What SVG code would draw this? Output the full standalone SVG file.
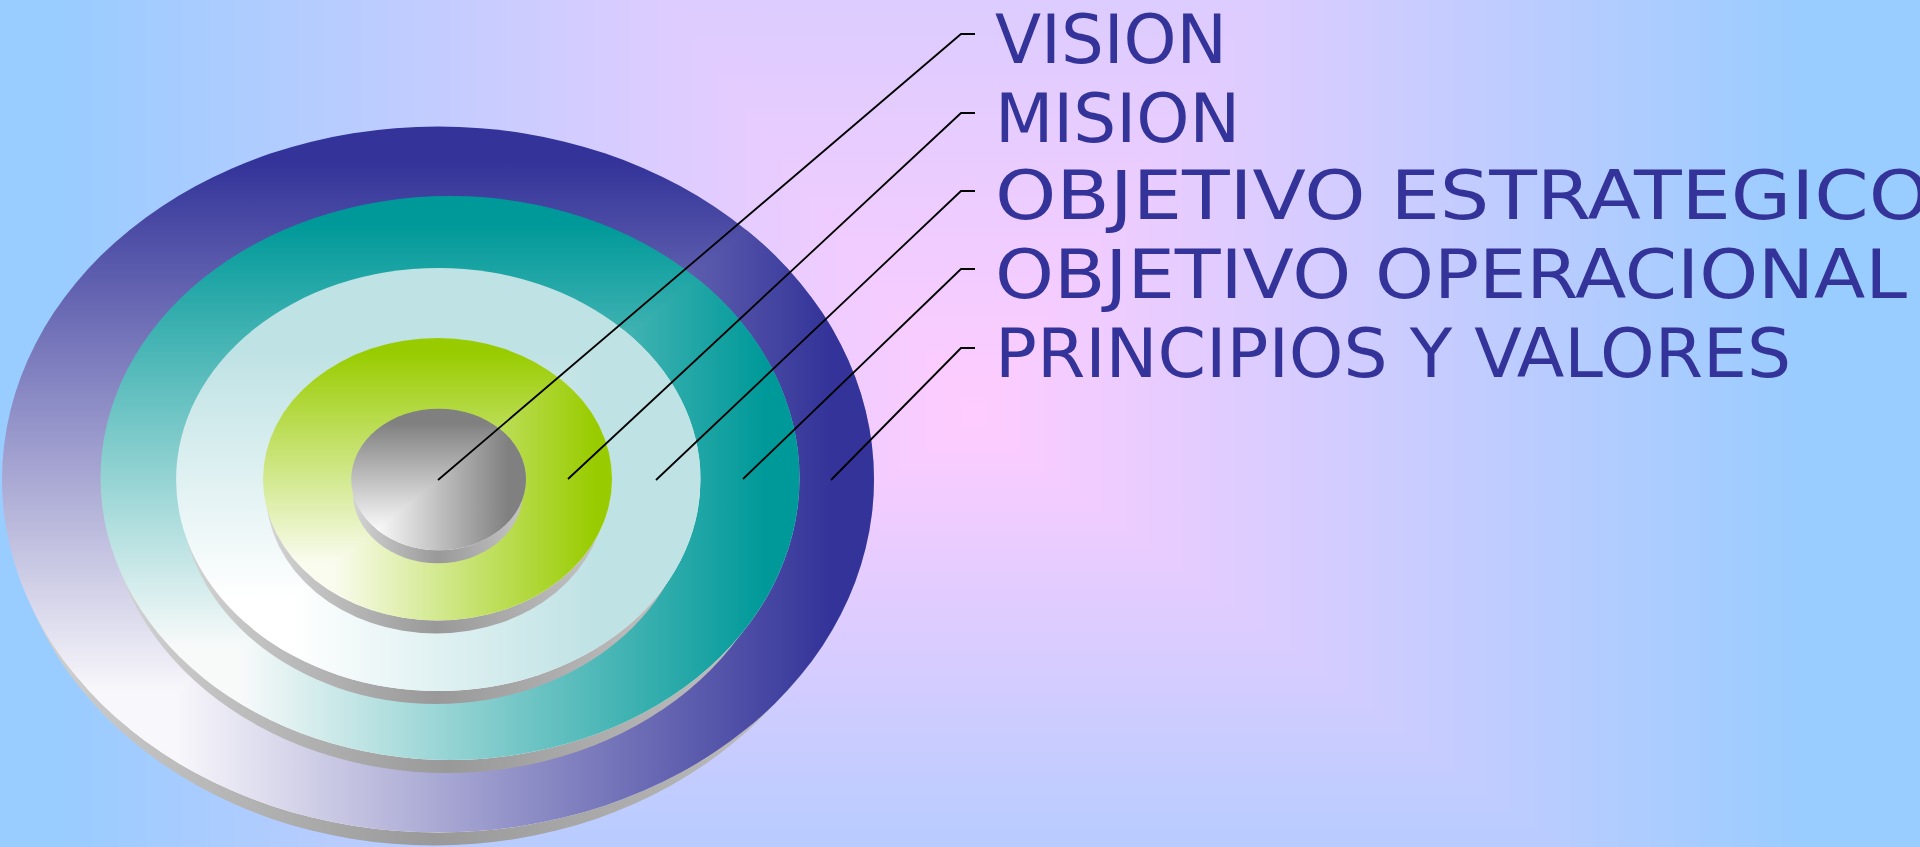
<svg xmlns="http://www.w3.org/2000/svg" width="1920" height="847" viewBox="0 0 1920 847">
<style>
.lbl{font-family:"DejaVu Sans Condensed","DejaVu Sans",sans-serif;font-stretch:condensed;font-size:68px;fill:#333399;}
.conn{stroke:#000;stroke-width:1.8;fill:none;}
</style>
<defs>
<linearGradient id="bgV" gradientUnits="userSpaceOnUse" x1="0" y1="-815" x2="0" y2="1030">
<stop offset="0" stop-color="#99CCFF"/><stop offset="0.669" stop-color="#FFCCFF"/><stop offset="1" stop-color="#99CCFF"/>
</linearGradient>
<linearGradient id="bgL" gradientUnits="userSpaceOnUse" x1="975" y1="0" x2="60" y2="0">
<stop offset="0" stop-color="#FFCCFF"/><stop offset="1" stop-color="#99CCFF"/>
</linearGradient>
<linearGradient id="bgR" gradientUnits="userSpaceOnUse" x1="975" y1="0" x2="1810" y2="0">
<stop offset="0" stop-color="#FFCCFF"/><stop offset="1" stop-color="#99CCFF"/>
</linearGradient>
<linearGradient id="ext" x1="0" y1="0" x2="1" y2="0">
<stop offset="0" stop-color="#d4d4d4"/><stop offset="0.5" stop-color="#999999"/><stop offset="1" stop-color="#c4c4c4"/>
</linearGradient>
<linearGradient id="bV" x1="0" y1="1" x2="0" y2="0"><stop offset="0.2" stop-color="#f8f7fb"/><stop offset="0.95" stop-color="#333399"/></linearGradient>
<linearGradient id="bH" x1="0" y1="0" x2="1" y2="0"><stop offset="0.2" stop-color="#f8f7fb"/><stop offset="0.95" stop-color="#333399"/></linearGradient>
<linearGradient id="tV" x1="0" y1="1" x2="0" y2="0"><stop offset="0.2" stop-color="#f8fafa"/><stop offset="0.95" stop-color="#009999"/></linearGradient>
<linearGradient id="tH" x1="0" y1="0" x2="1" y2="0"><stop offset="0.2" stop-color="#f8fafa"/><stop offset="0.95" stop-color="#009999"/></linearGradient>
<linearGradient id="cV" x1="0" y1="1" x2="0" y2="0"><stop offset="0.22" stop-color="#fff"/><stop offset="0.8" stop-color="#BFE2E4"/></linearGradient>
<linearGradient id="cH" x1="0" y1="0" x2="1" y2="0"><stop offset="0.22" stop-color="#fff"/><stop offset="0.8" stop-color="#BFE2E4"/></linearGradient>
<linearGradient id="gV" x1="0" y1="1" x2="0" y2="0"><stop offset="0.2" stop-color="#fafcf0"/><stop offset="0.95" stop-color="#99CC00"/></linearGradient>
<linearGradient id="gH" x1="0" y1="0" x2="1" y2="0"><stop offset="0.2" stop-color="#fafcf0"/><stop offset="0.95" stop-color="#99CC00"/></linearGradient>
<linearGradient id="sV" x1="0" y1="1" x2="0" y2="0"><stop offset="0.15" stop-color="#f8f8f8"/><stop offset="0.9" stop-color="#808080"/></linearGradient>
<linearGradient id="sH" x1="0" y1="0" x2="1" y2="0"><stop offset="0.15" stop-color="#f8f8f8"/><stop offset="0.9" stop-color="#808080"/></linearGradient>
<clipPath id="clipB"><polygon points="2,832.5 874,832.5 874,126.5"/></clipPath>
<clipPath id="clipT"><polygon points="100.5,760 799.5,760 799.5,196"/></clipPath>
<clipPath id="clipC"><polygon points="176,691 700.5,691 700.5,268"/></clipPath>
<clipPath id="clipG"><polygon points="263,620.5 612,620.5 612,338"/></clipPath>
<clipPath id="clipS"><polygon points="351.3,550.3 526,550.3 526,408.7"/></clipPath>
</defs>

<g id="background">
<rect x="0" y="0" width="1920" height="847" fill="url(#bgV)"/>
<polygon points="975,420 60,-815 -10,-815 -10,1030 60,1030" fill="url(#bgL)"/>
<polygon points="975,420 1810,-815 1930,-815 1930,1030 1810,1030" fill="url(#bgR)"/>
</g>

<g id="ring-principios">
<ellipse cx="434" cy="492.5" rx="425" ry="353" fill="url(#ext)"/>
<ellipse cx="438" cy="479.5" rx="436" ry="353" fill="url(#bV)"/>
<ellipse cx="438" cy="479.5" rx="436" ry="353" fill="url(#bH)" clip-path="url(#clipB)"/>
</g>
<g id="ring-operacional">
<ellipse cx="447" cy="491" rx="341" ry="282" fill="url(#ext)"/>
<ellipse cx="450" cy="478" rx="349.5" ry="282" fill="url(#tV)"/>
<ellipse cx="450" cy="478" rx="349.5" ry="282" fill="url(#tH)" clip-path="url(#clipT)"/>
</g>
<g id="ring-estrategico">
<ellipse cx="436" cy="492.5" rx="255.5" ry="211.5" fill="url(#ext)"/>
<ellipse cx="438.3" cy="479.5" rx="262.2" ry="211.5" fill="url(#cV)"/>
<ellipse cx="438.3" cy="479.5" rx="262.2" ry="211.5" fill="url(#cH)" clip-path="url(#clipC)"/>
</g>
<g id="ring-mision">
<ellipse cx="436" cy="492.3" rx="170" ry="141.2" fill="url(#ext)"/>
<ellipse cx="437.5" cy="479.3" rx="174.5" ry="141.2" fill="url(#gV)"/>
<ellipse cx="437.5" cy="479.3" rx="174.5" ry="141.2" fill="url(#gH)" clip-path="url(#clipG)"/>
</g>
<g id="ring-vision">
<ellipse cx="437.8" cy="492.5" rx="85" ry="70.8" fill="url(#ext)"/>
<ellipse cx="438.6" cy="479.5" rx="87.4" ry="70.8" fill="url(#sV)"/>
<ellipse cx="438.6" cy="479.5" rx="87.4" ry="70.8" fill="url(#sH)" clip-path="url(#clipS)"/>
</g>

<g id="connectors">
<polyline class="conn" points="438,480 961,34 975,34"/>
<polyline class="conn" points="568,479 961,113 975,113"/>
<polyline class="conn" points="656,480 961,191 975,191"/>
<polyline class="conn" points="743,479 961,269 975,269"/>
<polyline class="conn" points="831,480 961,348 975,348"/>
</g>

<g id="labels">
<text id="t-vision" class="lbl" x="995" y="63" textLength="232" lengthAdjust="spacingAndGlyphs">VISION</text>
<text id="t-mision" class="lbl" x="995" y="142" textLength="245" lengthAdjust="spacingAndGlyphs">MISION</text>
<text id="t-estrategico" class="lbl" x="995" y="219" textLength="935" lengthAdjust="spacingAndGlyphs">OBJETIVO ESTRATEGICO</text>
<text id="t-operacional" class="lbl" x="995" y="298" textLength="912" lengthAdjust="spacingAndGlyphs">OBJETIVO OPERACIONAL</text>
<text id="t-principios" class="lbl" x="995" y="377" textLength="796" lengthAdjust="spacingAndGlyphs">PRINCIPIOS Y VALORES</text>
</g>
</svg>
